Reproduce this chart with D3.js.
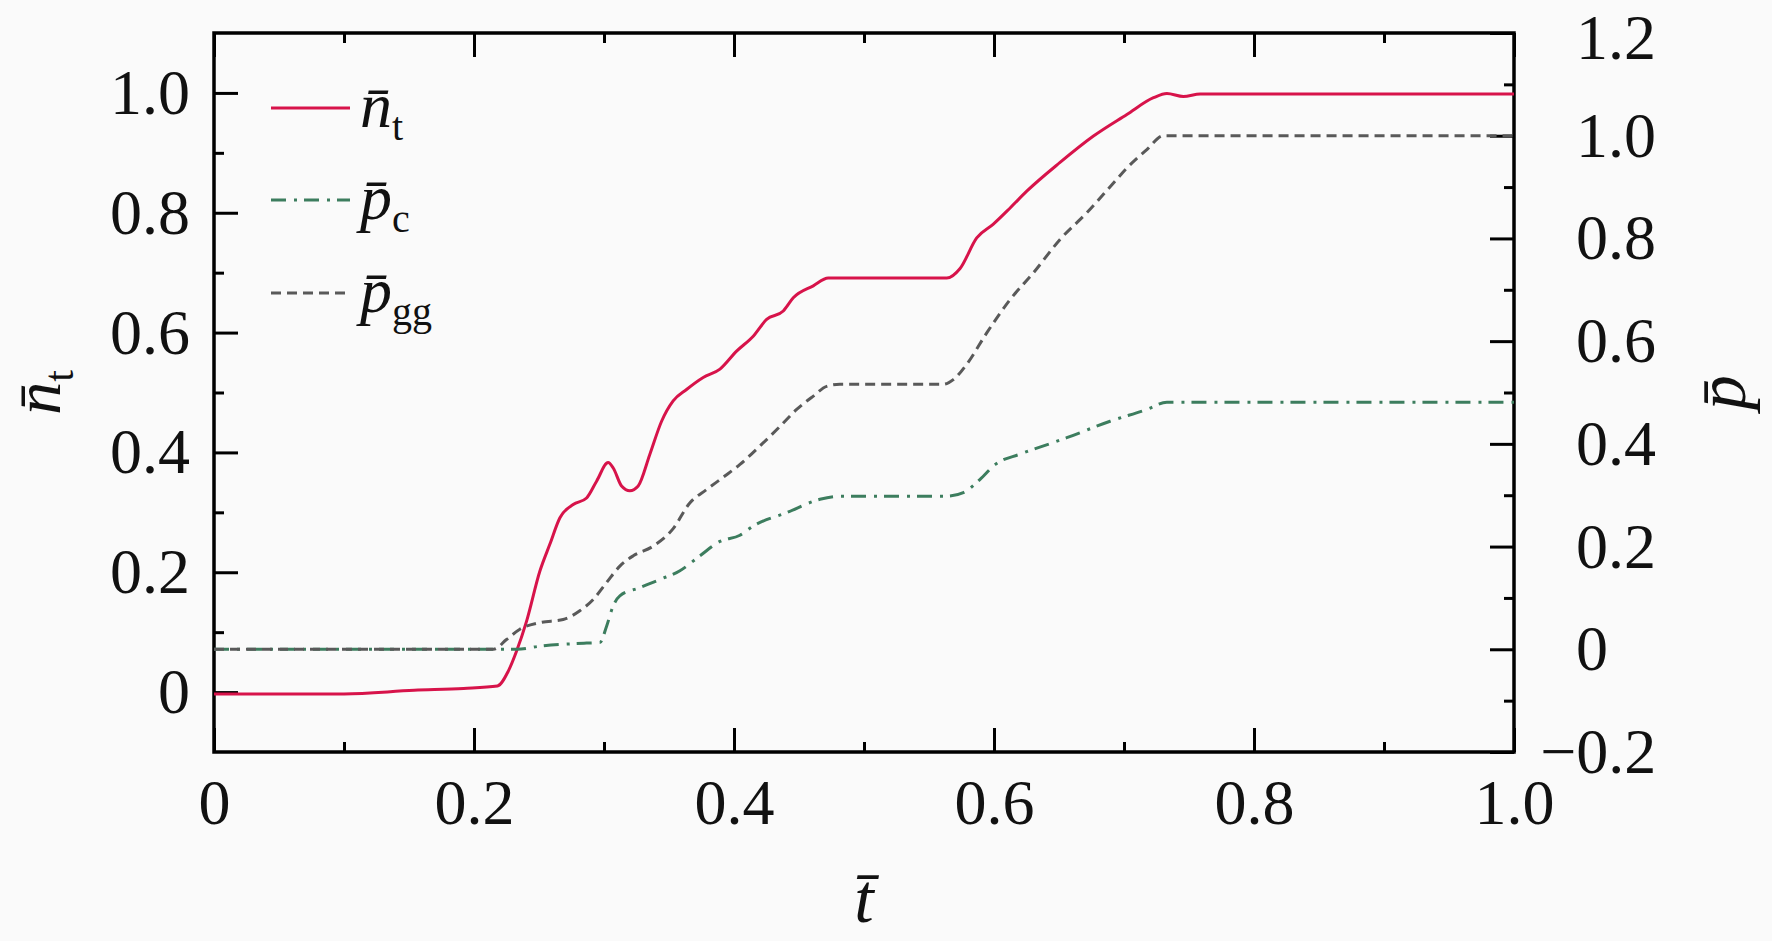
<!DOCTYPE html>
<html lang="en">
<head>
  <meta charset="UTF-8">
  <script src="https://d3js.org/d3.v7.min.js"></script>
  <title>n_t, p_c, p_gg vs t</title>
  <style>
    body { margin: 0; background: #fafafa; }
    text { font-family: "Liberation Serif", "Times New Roman", serif; fill: #111; }
  </style>
</head>
<body>
  <svg id="chart" width="1772" height="941"></svg>
  <script>
    // 读图得到的数据 (t 为横坐标)
    const ntT = [0, 0.10, 0.154, 0.192, 0.218, 0.2264, 0.2327, 0.2404, 0.2507, 0.2584, 0.2661, 0.2763, 0.2866,
      0.2943, 0.3032, 0.3071, 0.3135, 0.3199, 0.3263, 0.3353, 0.3443, 0.3532, 0.3635, 0.3763, 0.3892, 0.402,
      0.4148, 0.4251, 0.4379, 0.4456, 0.461, 0.4725, 0.5637, 0.5739, 0.5867, 0.5995, 0.6124, 0.6252, 0.6508,
      0.6765, 0.7022, 0.7227, 0.733, 0.7457, 0.7586, 1.0];
    const ntV = [-0.003, -0.003, 0.003, 0.006, 0.010, 0.035, 0.068, 0.118, 0.202, 0.247, 0.291, 0.313, 0.324,
      0.352, 0.383, 0.374, 0.344, 0.336, 0.344, 0.397, 0.452, 0.486, 0.505, 0.525, 0.539, 0.569,
      0.594, 0.622, 0.636, 0.658, 0.678, 0.691, 0.691, 0.707, 0.758, 0.781, 0.808, 0.836, 0.884,
      0.928, 0.964, 0.992, 0.999, 0.994, 0.998, 0.998];

    const pcT = [0, 0.233, 0.2507, 0.2866, 0.2968, 0.302, 0.307, 0.3122, 0.3276, 0.343, 0.3584, 0.3738, 0.3892,
      0.4046, 0.4148, 0.4405, 0.4661, 0.4815, 0.5637, 0.5764, 0.5893, 0.601, 0.62, 0.645, 0.656, 0.6893,
      0.7176, 0.733, 1.0];
    const pcV = [0, 0, 0.006, 0.012, 0.013, 0.045, 0.084, 0.104, 0.12, 0.136, 0.153, 0.182, 0.21,
      0.222, 0.24, 0.266, 0.292, 0.298, 0.298, 0.305, 0.331, 0.36, 0.38, 0.402, 0.412, 0.444,
      0.467, 0.481, 0.481];

    const pggT = [0, 0.215, 0.225, 0.2353, 0.2507, 0.2686, 0.2814, 0.2917, 0.302, 0.3122, 0.3225, 0.3379, 0.3532,
      0.366, 0.3789, 0.3917, 0.4046, 0.42, 0.4354, 0.4482, 0.461, 0.4713, 0.4815, 0.561, 0.5687, 0.579,
      0.5944, 0.6124, 0.6303, 0.6508, 0.6714, 0.6919, 0.7022, 0.7176, 0.7304, 1.0];
    const pggV = [0, 0, 0.019, 0.039, 0.052, 0.058, 0.075, 0.097, 0.13, 0.162, 0.182, 0.201, 0.235,
      0.285, 0.311, 0.335, 0.36, 0.396, 0.434, 0.467, 0.493, 0.512, 0.516, 0.516, 0.525, 0.555,
      0.616, 0.681, 0.733, 0.798, 0.85, 0.908, 0.937, 0.973, 1.0, 1.0];

    // 刻度
    const xMajor = [0, 0.2, 0.4, 0.6, 0.8, 1.0];
    const xMinor = [0.1, 0.3, 0.5, 0.7, 0.9];
    const yLeftMajor = [0, 0.2, 0.4, 0.6, 0.8, 1.0];
    const yLeftMinor = [0.1, 0.3, 0.5, 0.7, 0.9];
    const yRightMajor = [-0.2, 0, 0.2, 0.4, 0.6, 0.8, 1.0, 1.2];
    const yRightMinor = [-0.1, 0.1, 0.3, 0.5, 0.7, 0.9, 1.1];

    // 图例 / 轴标题
    const legendMain = ["n\u0304", "p\u0304", "p\u0304"];
    const legendSub = ["t", "c", "gg"];
    const xTitle = "t\u0304";
    const yLeftTitle = ["n\u0304", "t"];
    const yRightTitle = "p\u0304";

    const svg = d3.select("#chart");
    const W = 1772, H = 941;
    const L = 214, R = 1514, T = 33, B = 752;

    svg.append("rect").attr("width", W).attr("height", H).attr("fill", "#fafafa");

    const xScale = d3.scaleLinear().domain([0, 1]).range([L, R]);
    const yLeft = d3.scaleLinear().domain([-0.1, 1.1]).range([B, T]);
    const yRight = d3.scaleLinear().domain([-0.2, 1.2]).range([B, T]);

    const fmt = d => d === 0 ? "0" : d3.format(".1f")(Math.abs(d));
    const majorLen = 24, minorLen = 10;

    const drawAxis = (axis, transform, labels) => {
      const g = svg.append("g").attr("transform", transform).call(axis);
      g.select("path.domain").remove();
      g.selectAll(".tick line").attr("stroke", "#000").attr("stroke-width", 3);
      g.selectAll("text").style("font-size", "64px").attr("fill", "#111");
      if (!labels) g.selectAll("text").remove();
      return g;
    };

    // 下轴
    drawAxis(d3.axisBottom(xScale).tickValues(xMajor).tickSize(-majorLen).tickPadding(27).tickFormat(fmt),
      `translate(0,${B})`, true);
    drawAxis(d3.axisBottom(xScale).tickValues(xMinor).tickSize(-minorLen), `translate(0,${B})`, false);
    // 上轴
    drawAxis(d3.axisTop(xScale).tickValues(xMajor).tickSize(-majorLen), `translate(0,${T})`, false);
    drawAxis(d3.axisTop(xScale).tickValues(xMinor).tickSize(-minorLen), `translate(0,${T})`, false);
    // 左轴
    drawAxis(d3.axisLeft(yLeft).tickValues(yLeftMajor).tickSize(-majorLen).tickPadding(24).tickFormat(fmt),
      `translate(${L},0)`, true);
    drawAxis(d3.axisLeft(yLeft).tickValues(yLeftMinor).tickSize(-minorLen), `translate(${L},0)`, false);
    // 右轴
    const gr = drawAxis(d3.axisRight(yRight).tickValues(yRightMajor).tickSize(-majorLen).tickPadding(62).tickFormat(fmt),
      `translate(${R},0)`, true);
    gr.selectAll(".tick text")
      .text(d => (d < 0 ? "\u2212" : "") + fmt(d))
      .attr("dx", d => d < 0 ? "-0.56em" : 0)
      .attr("dy", d => d >= 1.2 ? "0.4em" : "0.32em");
    drawAxis(d3.axisRight(yRight).tickValues(yRightMinor).tickSize(-minorLen), `translate(${R},0)`, false);

    // 边框
    svg.append("rect")
      .attr("x", L).attr("y", T).attr("width", R - L).attr("height", B - T)
      .attr("fill", "none").attr("stroke", "#000").attr("stroke-width", 3.5);

    // 曲线
    const series = [
      { t: ntT, v: ntV, y: yLeft, color: "#d7134a", dash: null },
      { t: pcT, v: pcV, y: yRight, color: "#3c7d5e", dash: "15 8 3 7" },
      { t: pggT, v: pggV, y: yRight, color: "#595959", dash: "10 6" }
    ];

    series.forEach(s => {
      const line = d3.line()
        .x((d, i) => xScale(s.t[i]))
        .y(d => s.y(d))
        .curve(d3.curveMonotoneX);
      svg.append("path")
        .attr("d", line(s.v))
        .attr("fill", "none")
        .attr("stroke", s.color)
        .attr("stroke-width", 3)
        .attr("stroke-dasharray", s.dash)
        .attr("stroke-linejoin", "round");
    });

    // 图例
    const legendY = [108, 200, 293];
    series.forEach((s, i) => {
      svg.append("line")
        .attr("x1", 271).attr("x2", 350)
        .attr("y1", legendY[i]).attr("y2", legendY[i])
        .attr("stroke", s.color).attr("stroke-width", 3)
        .attr("stroke-dasharray", s.dash);
      const tx = svg.append("text")
        .attr("x", 360).attr("y", legendY[i] + 19)
        .style("font-size", "64px");
      tx.append("tspan").style("font-style", "italic").text(legendMain[i]);
      tx.append("tspan").attr("dy", 13).style("font-size", "40px").text(legendSub[i]);
    });

    // 轴标题
    svg.append("text")
      .attr("x", (L + R) / 2).attr("y", 922)
      .attr("text-anchor", "middle")
      .style("font-size", "70px").style("font-style", "italic")
      .text(xTitle);

    const lt = svg.append("text")
      .attr("transform", `translate(60,${(T + B) / 2}) rotate(-90)`)
      .attr("text-anchor", "middle")
      .style("font-size", "66px");
    lt.append("tspan").style("font-style", "italic").text(yLeftTitle[0]);
    lt.append("tspan").attr("dy", 13).style("font-size", "42px").text(yLeftTitle[1]);

    svg.append("text")
      .attr("transform", `translate(1745,${(T + B) / 2}) rotate(-90)`)
      .attr("text-anchor", "middle")
      .style("font-size", "70px").style("font-style", "italic")
      .text(yRightTitle);
  </script>
</body>
</html>
